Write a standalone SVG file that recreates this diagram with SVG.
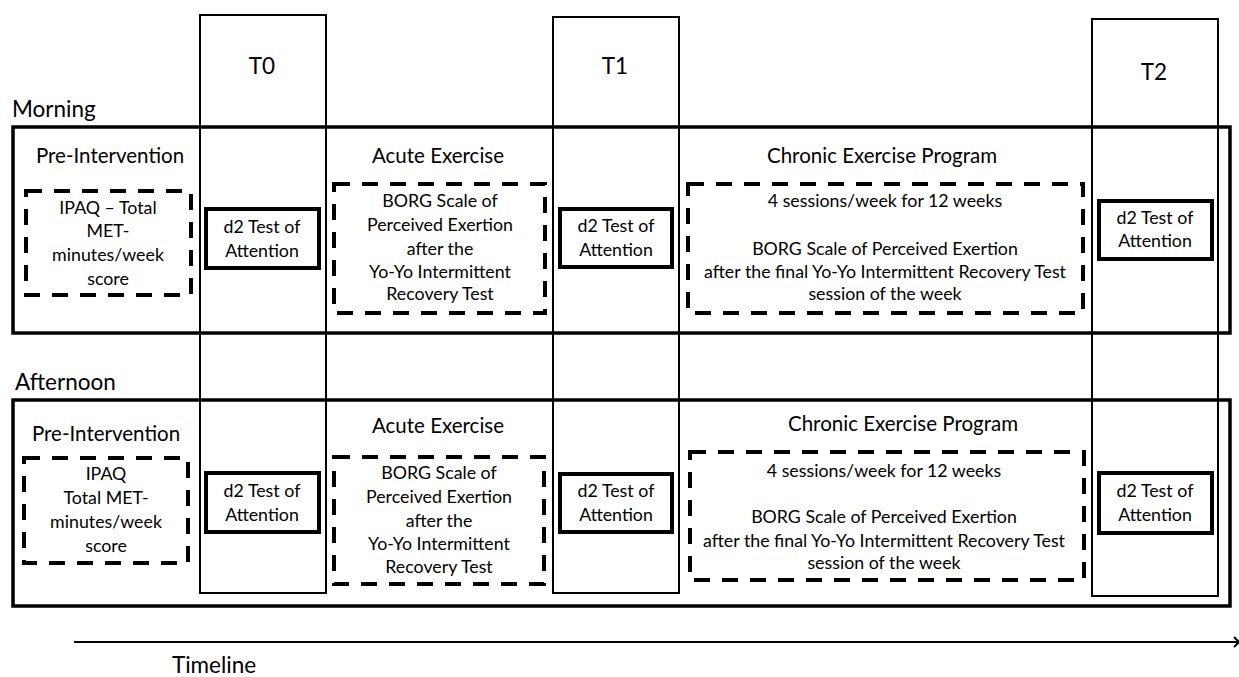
<svg xmlns="http://www.w3.org/2000/svg" width="1239" height="677" viewBox="0 0 1239 677">
<defs>
<style>
text{font-family:Lato,"Liberation Sans",sans-serif;fill:#000}
.big{font-size:22.5px}
.hdr{font-size:20.5px}
.body{font-size:17.8px}
.c{text-anchor:middle}
.col{fill:none;stroke:#000;stroke-width:2}
.frame{fill:none;stroke:#000;stroke-width:3.5}
.dash{fill:none;stroke:#000;stroke-width:4;stroke-dasharray:16 12}
.d2{fill:#fff;stroke:#000;stroke-width:4}
.conn{fill:none;stroke:#000;stroke-width:2}
</style>
</defs>
<rect width="1239" height="677" fill="#fff"/>

<g id="frames">
<rect id="morning-frame" class="frame" x="13" y="127" width="1217" height="206"/>
<rect id="afternoon-frame" class="frame" x="13" y="400" width="1217" height="206"/>
</g>

<g id="col-T0"><rect class="col" x="200" y="15" width="126" height="578"/><text class="big c" x="262" y="74">T0</text></g>
<g id="col-T1"><rect class="col" x="553" y="17" width="126" height="576"/><text class="big c" x="615" y="74">T1</text></g>
<g id="col-T2"><rect class="col" x="1092" y="19" width="126" height="577"/><text class="big c" x="1154" y="80">T2</text></g>

<g id="label-morning"><text class="big" x="12" y="117">Morning</text></g>
<g id="label-afternoon"><text class="big" x="15" y="390">Afternoon</text></g>

<!-- Morning row -->
<g id="m-pre">
<text class="hdr c" x="110" y="163">Pre-Intervention</text>
<rect class="dash" x="26" y="191" width="165" height="104"/>
<text class="body c" x="108"><tspan x="108" y="214">IPAQ – Total</tspan><tspan x="108" y="237">MET-</tspan><tspan x="108" y="261">minutes/week</tspan><tspan x="108" y="285">score</tspan></text>
</g>
<g id="m-d2-T0"><rect class="d2" x="206" y="209" width="113" height="59"/><text class="body c"><tspan x="262" y="233">d2 Test of</tspan><tspan x="262" y="257">Attention</tspan></text></g>
<g id="m-acute">
<text class="hdr c" x="438" y="163">Acute Exercise</text>
<rect class="dash" x="334" y="184" width="211" height="129"/>
<text class="body c"><tspan x="440" y="207">BORG Scale of</tspan><tspan x="440" y="231">Perceived Exertion</tspan><tspan x="440" y="255">after the</tspan><tspan x="440" y="278">Yo-Yo Intermittent</tspan><tspan x="440" y="300">Recovery Test</tspan></text>
</g>
<g id="m-d2-T1"><rect class="d2" x="560" y="209" width="112" height="58"/><text class="body c"><tspan x="616" y="232">d2 Test of</tspan><tspan x="616" y="256">Attention</tspan></text></g>
<g id="m-chronic">
<text class="hdr c" x="882" y="163">Chronic Exercise Program</text>
<rect class="dash" x="688" y="184" width="395" height="129"/>
<text class="body c"><tspan x="885" y="207">4 sessions/week for 12 weeks</tspan><tspan x="885" y="255">BORG Scale of Perceived Exertion</tspan><tspan x="885" y="278">after the final Yo-Yo Intermittent Recovery Test</tspan><tspan x="885" y="300">session of the week</tspan></text>
</g>
<g id="m-d2-T2"><rect class="d2" x="1099" y="201" width="113" height="58"/><text class="body c"><tspan x="1155" y="224">d2 Test of</tspan><tspan x="1155" y="247">Attention</tspan></text></g>

<!-- Afternoon row -->
<g id="a-pre">
<text class="hdr c" x="106" y="441">Pre-Intervention</text>
<rect class="dash" x="24" y="458" width="164" height="105"/>
<text class="body c"><tspan x="106" y="480">IPAQ</tspan><tspan x="106" y="504">Total MET-</tspan><tspan x="106" y="528">minutes/week</tspan><tspan x="106" y="552">score</tspan></text>
</g>
<g id="a-d2-T0"><rect class="d2" x="206" y="473" width="113" height="59"/><text class="body c"><tspan x="262" y="497">d2 Test of</tspan><tspan x="262" y="521">Attention</tspan></text></g>
<g id="a-acute">
<text class="hdr c" x="438" y="433">Acute Exercise</text>
<rect class="dash" x="334" y="457" width="210" height="127"/>
<text class="body c"><tspan x="439" y="479">BORG Scale of</tspan><tspan x="439" y="503">Perceived Exertion</tspan><tspan x="439" y="527">after the</tspan><tspan x="439" y="550">Yo-Yo Intermittent</tspan><tspan x="439" y="573">Recovery Test</tspan></text>
</g>
<g id="a-d2-T1"><rect class="d2" x="560" y="474" width="112" height="58"/><text class="body c"><tspan x="616" y="497">d2 Test of</tspan><tspan x="616" y="521">Attention</tspan></text></g>
<g id="a-chronic">
<text class="hdr c" x="903" y="431">Chronic Exercise Program</text>
<rect class="dash" x="690" y="452" width="394" height="128"/>
<text class="body c"><tspan x="884" y="477">4 sessions/week for 12 weeks</tspan><tspan x="884" y="523">BORG Scale of Perceived Exertion</tspan><tspan x="884" y="547">after the final Yo-Yo Intermittent Recovery Test</tspan><tspan x="884" y="569">session of the week</tspan></text>
</g>
<g id="a-d2-T2"><rect class="d2" x="1099" y="473" width="113" height="60"/><text class="body c"><tspan x="1155" y="497">d2 Test of</tspan><tspan x="1155" y="521">Attention</tspan></text></g>

<g id="connectors">
<line class="conn" x1="74" y1="642" x2="1239" y2="642"/>
<polyline class="conn" points="1234,637 1239,642 1234,647"/>
</g>
<g id="label-timeline"><text class="big c" x="214" y="673">Timeline</text></g>
</svg>
